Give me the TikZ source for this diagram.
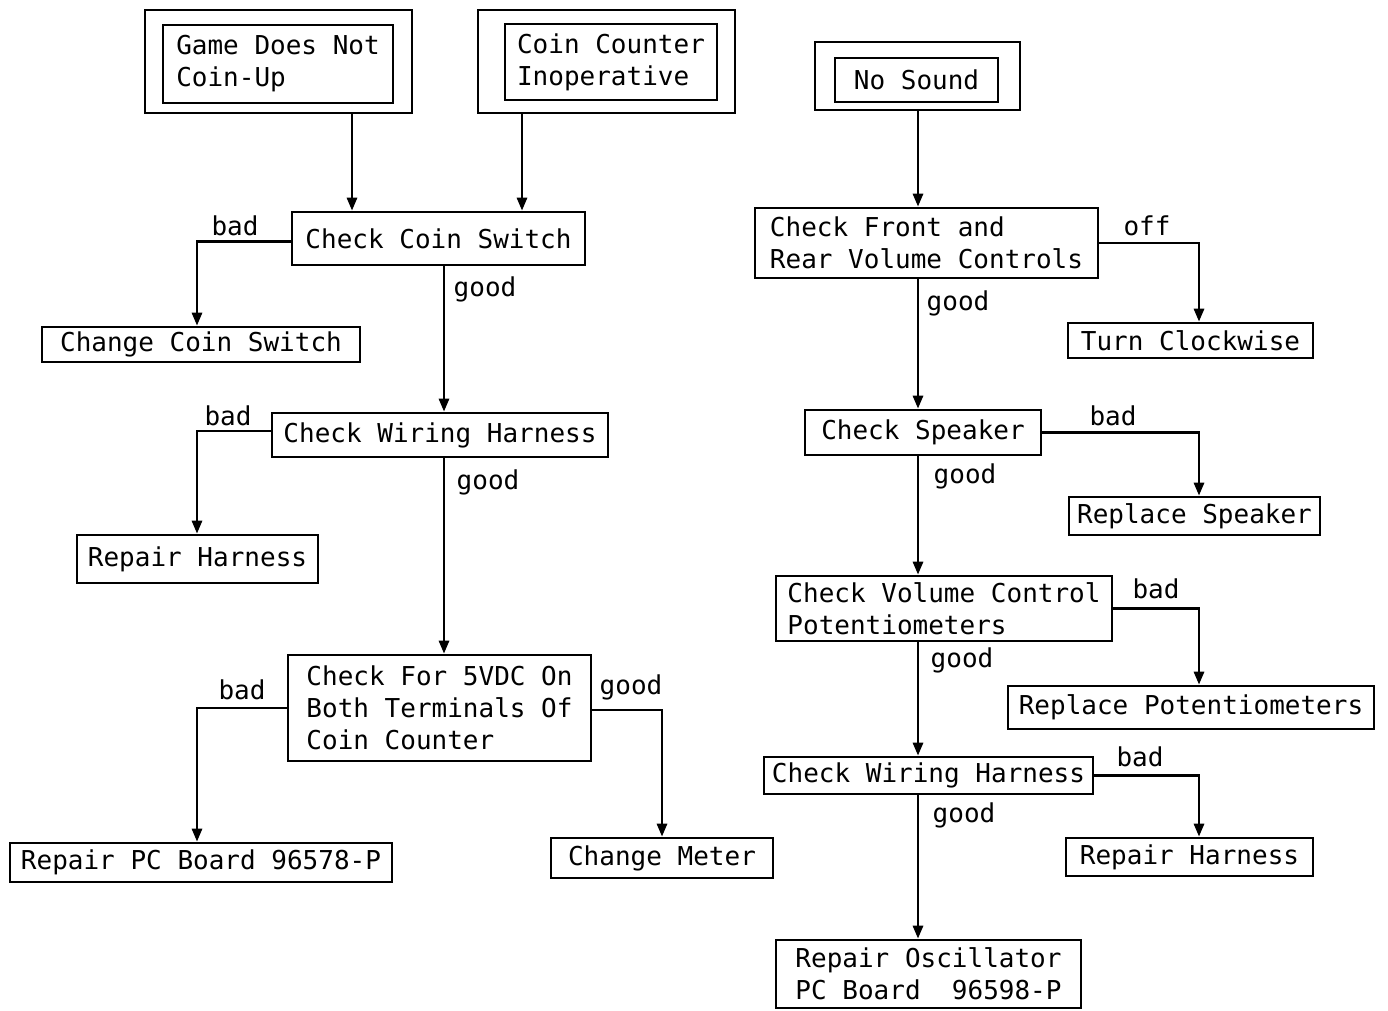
\documentclass[tikz,border=0pt]{standalone}
\usepackage{fontspec}
\usepackage{tikz}
\usetikzlibrary{arrows.meta}
\newfontfamily\typer{DejaVu Sans Mono}

\begin{document}
\begin{tikzpicture}[x=0.5pt, y=-0.5pt, line width=1.4pt, >={Triangle[length=6.5pt,width=5pt]},
  every node/.style={font=\fontsize{13}{16}\selectfont\typer},
  box/.style={draw, line width=1.3pt, align=left, inner sep=0pt},
  sz/.style 2 args={minimum width=#1*0.5pt, minimum height=#2*0.5pt},
  lbl/.style={inner sep=0pt}]
 \useasboundingbox (0,0) rectangle (1388,1011);
 \coordinate (lcol) at (197,0);
 \coordinate (mcol) at (444,0);
 \coordinate (rmain) at (918,0);
 \coordinate (rcol) at (1199,0);
 % start boxes
 \node[box, sz={267}{103}] (gdnf) at (278.5,61.5) {};
 \node[box, sz={230}{78}] (gdn) at (278,64) {Game Does Not\\Coin-Up};
 \node[box, sz={257}{103}] (ccif) at (606.5,61.5) {};
 \node[box, sz={212}{76}] (cci) at (611,62) {Coin Counter\\Inoperative};
 \node[box, sz={205}{68}] (nosf) at (917.5,76) {};
 \node[box, sz={163}{44}] (nos) at (916.5,80) {No Sound};
 % coin side
 \node[box, sz={293}{53}] (ccs) at (438.5,238.5) {Check Coin Switch};
 \node[box, sz={318}{35}] (ccw) at (201,344.5) {Change Coin Switch};
 \node[box, sz={336}{44}] (cwh) at (440,435) {Check Wiring Harness};
 \node[box, sz={241}{48}] (rph) at (197.5,559) {Repair Harness};
 \node[box, sz={303}{106}] (cfv) at (439.5,708) {Check For 5VDC On\\Both Terminals Of\\Coin Counter};
 \node[box, sz={382}{39}] (rpc) at (201,862.5) {Repair PC Board 96578-P};
 \node[box, sz={222}{40}] (chm) at (662,858) {Change Meter};
 % sound side
 \node[box, sz={343}{70}] (cfr) at (926.5,243) {Check Front and\\Rear Volume Controls};
 \node[box, sz={245}{35}] (tcw) at (1190.5,340.5) {Turn Clockwise};
 \node[box, sz={236}{45}] (csp) at (923,432.5) {Check Speaker};
 \node[box, sz={251}{38}] (rsp) at (1194.5,516) {Replace Speaker};
 \node[box, sz={336}{65}] (cvc) at (944,608.5) {Check Volume Control\\Potentiometers};
 \node[box, sz={366}{43}] (rpt) at (1191,707.5) {Replace Potentiometers};
 \node[box, sz={329}{37}] (cwr) at (928.5,775.5) {Check Wiring Harness};
 \node[box, sz={247}{38}] (rph2) at (1189.5,857) {Repair Harness};
 \node[box, sz={305}{68}] (ros) at (928.5,974) {Repair Oscillator\\PC Board~~96598-P};
 % labels
 \node[lbl] (l1) at (235,226) {bad};
 \node[lbl] (l2) at (485,289) {good};
 \node[lbl] (l3) at (228,416) {bad};
 \node[lbl] (l4) at (488,482) {good};
 \node[lbl] (l5) at (242,690) {bad};
 \node[lbl] (l6) at (631,687) {good};
 \node[lbl] (l7) at (1147,226) {off};
 \node[lbl] (l8) at (958,303) {good};
 \node[lbl] (l9) at (1113,416) {bad};
 \node[lbl] (l10) at (965,476) {good};
 \node[lbl] (l11) at (1156,589) {bad};
 \node[lbl] (l12) at (962,660) {good};
 \node[lbl] (l13) at (1140,757) {bad};
 \node[lbl] (l14) at (964,815) {good};
 % connectors
 \draw[->] (gdnf.south -| 352,0) -- (352,0 |- ccs.north);
 \draw[->] (ccif.south -| 522,0) -- (522,0 |- ccs.north);
 \draw[->] ([yshift=-1.5pt]ccs.west) -| (lcol |- ccw.north);
 \draw[->] (mcol |- ccs.south) -- (mcol |- cwh.north);
 \draw[->] ([yshift=2pt]cwh.west) -| (lcol |- rph.north);
 \draw[->] (mcol |- cwh.south) -- (mcol |- cfv.north);
 \draw[->] (cfv.west) -| (lcol |- rpc.north);
 \draw[->] ([yshift=-1pt]cfv.east) -| (chm.north);
 \draw[->] (rmain |- nosf.south) -- (rmain |- cfr.north);
 \draw[->] (cfr.east) -| (rcol |- tcw.north);
 \draw[->] (rmain |- cfr.south) -- (rmain |- csp.north);
 \draw[->] (csp.east) -| (rcol |- rsp.north);
 \draw[->] (rmain |- csp.south) -- (rmain |- cvc.north);
 \draw[->] (cvc.east) -| (rcol |- rpt.north);
 \draw[->] (rmain |- cvc.south) -- (rmain |- cwr.north);
 \draw[->] (cwr.east) -| (rcol |- rph2.north);
 \draw[->] (rmain |- cwr.south) -- (rmain |- ros.north);
\end{tikzpicture}
\end{document}
